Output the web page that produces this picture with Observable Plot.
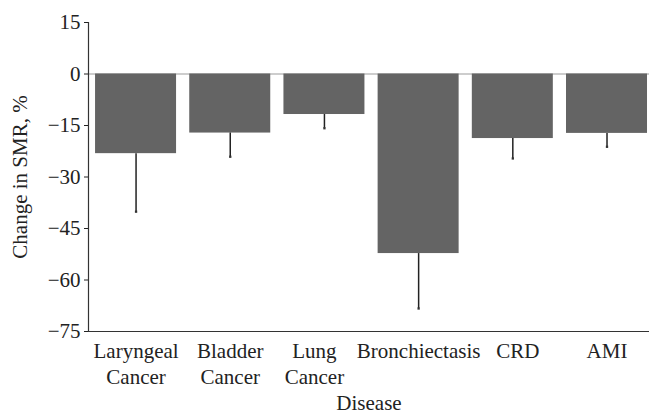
<!DOCTYPE html>
<html>
<head>
<meta charset="utf-8">
<script src="https://cdn.jsdelivr.net/npm/d3@7"></script>
<script src="https://cdn.jsdelivr.net/npm/@observablehq/plot@0.6"></script>
<style>
  html, body { margin: 0; padding: 0; background: #fff; }
  #chart svg { display: block; }
  #chart svg, #chart svg text, #chart svg tspan { font-family: "Liberation Serif", serif !important; font-size: 21px !important; }
</style>
</head>
<body>
<div id="chart"></div>
<script>
const diseases = ["Laryngeal Cancer", "Bladder Cancer", "Lung Cancer", "Bronchiectasis", "CRD", "AMI"];
const tickLabels = ["Laryngeal\nCancer", "Bladder\nCancer", "Lung\nCancer", "Bronchiectasis", "CRD", "AMI"];
const changeSMR = [-23.2, -17.2, -11.8, -52.3, -18.8, -17.3];
const lowerError = [-40.1, -24.1, -15.8, -68.3, -24.6, -21.2];
const yTicks = [15, 0, -15, -30, -45, -60, -75];

const data = diseases.map((d, i) => ({disease: d, value: changeSMR[i], lower: lowerError[i]}));
const labelOf = new Map(diseases.map((d, i) => [d, tickLabels[i]]));
const serif = "Liberation Serif";
// small horizontal nudges of some tick labels, as in the original typesetting
const nudge = new Map([["Lung Cancer", -10], ["CRD", 5]]);

const xAxisCommon = {tickSize: 0, tickPadding: 8, fontSize: 21, fontFamily: serif, lineHeight: 1.24, tickFormat: d => labelOf.get(d)};

const chart = Plot.plot({
  width: 649,
  height: 413,
  marginTop: 22,
  marginBottom: 82,
  marginLeft: 88,
  marginRight: 0,
  style: {fontFamily: serif, fontSize: "21px", background: "#fff", color: "#222"},
  x: {type: "band", domain: diseases, paddingInner: 0.14, paddingOuter: 0.048, align: 0.78, round: false},
  y: {domain: [-75, 15]},
  marks: [
    Plot.ruleY([0], {stroke: "#bdbdbd", strokeWidth: 1.5}),
    Plot.barY(data, {x: "disease", y1: 0, y2: "value", fill: "#646464"}),
    Plot.ruleX(data, {x: "disease", y1: "value", y2: "lower", stroke: "#222", strokeWidth: 1.5}),
    Plot.dot(data, {x: "disease", y: "lower", symbol: "square", r: 1.3, fill: "#333"}),
    Plot.frame({anchor: "left", stroke: "#333", strokeWidth: 1.2}),
    Plot.frame({anchor: "bottom", stroke: "#333", strokeWidth: 1.2}),
    Plot.axisY({ticks: yTicks, tickSize: 4, tickPadding: 4, fontSize: 21, fontFamily: serif,
      tickFormat: d => d < 0 ? "\u2212" + Math.abs(d) : String(d),
      label: "Change in SMR, %", labelAnchor: "center", labelArrow: "none", labelOffset: 76}),
    Plot.axisX(diseases.filter(d => !nudge.has(d)), {...xAxisCommon,
      label: "Disease", labelAnchor: "center", labelArrow: "none", labelOffset: 78}),
    ...[...nudge].map(([d, dx]) => Plot.axisX([d], {...xAxisCommon, dx, label: null}))
  ]
});
document.getElementById("chart").append(chart);
</script>
</body>
</html>
